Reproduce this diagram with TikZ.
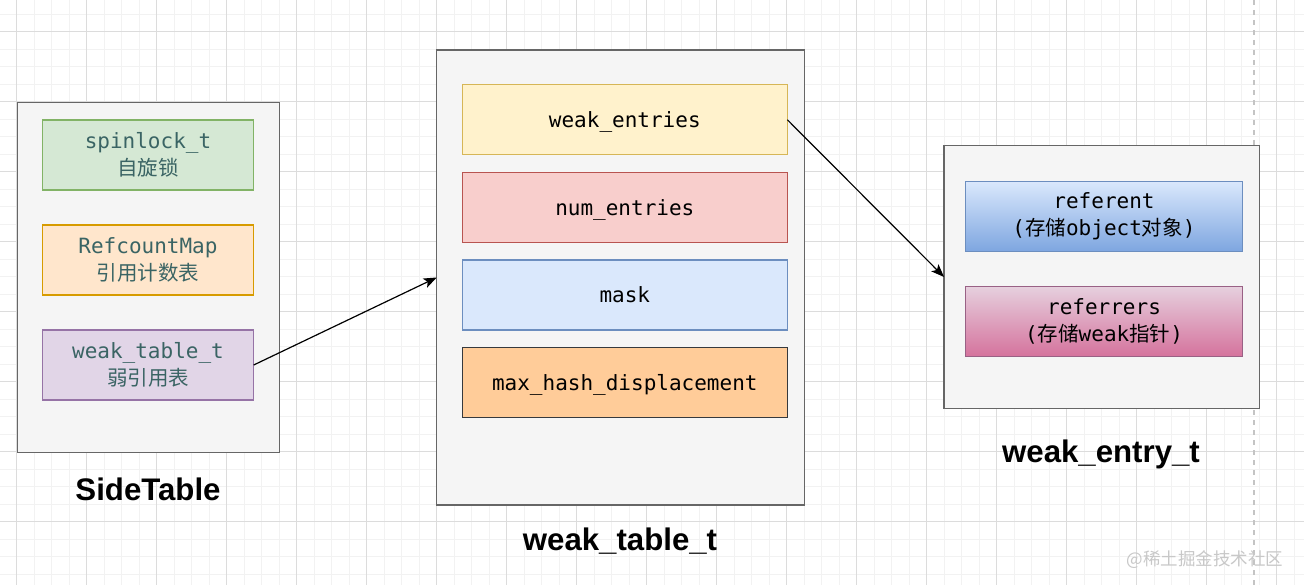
\documentclass[tikz,border=0pt]{standalone}
\usepackage{fontspec}
\setmainfont{Liberation Sans}
\newfontfamily\monofont{DejaVu Sans Mono}
\newfontfamily\cjk{Noto Sans CJK SC}
\usetikzlibrary{arrows.meta}
\definecolor{gridminor}{HTML}{F2F2F2}
\definecolor{gridmajor}{HTML}{DCDCDC}
\definecolor{outerfill}{HTML}{F5F5F5}
\definecolor{outerdraw}{HTML}{666666}
\definecolor{tealtext}{HTML}{3A6464}
\definecolor{gfill}{HTML}{D5E8D4}\definecolor{gdraw}{HTML}{82B366}
\definecolor{ofill}{HTML}{FFE6CC}\definecolor{odraw}{HTML}{D79B00}
\definecolor{pfill}{HTML}{E1D5E7}\definecolor{pdraw}{HTML}{9673A6}
\definecolor{yfill}{HTML}{FFF2CC}\definecolor{ydraw}{HTML}{D6B656}
\definecolor{rfill}{HTML}{F8CECC}\definecolor{rdraw}{HTML}{B85450}
\definecolor{bfill}{HTML}{DAE8FC}\definecolor{bdraw}{HTML}{6C8EBF}
\definecolor{mfill}{HTML}{FFCC99}\definecolor{mdraw}{HTML}{36393D}
\definecolor{bbottom}{HTML}{7EA6E0}
\definecolor{ktop}{HTML}{E6D0DE}\definecolor{kbottom}{HTML}{D5739D}\definecolor{kdraw}{HTML}{996185}
\definecolor{dashcol}{HTML}{C4C4C4}
\definecolor{wmark}{HTML}{C8C8C8}
\tikzset{
  outerbox/.style={draw=outerdraw, fill=outerfill, line width=1.3pt, rectangle, inner sep=0pt, outer sep=0pt},
  fieldbox/.style={rectangle, line width=1.3pt, inner sep=0pt, outer sep=0pt, minimum height=70pt, align=center,
    font=\monofont\fontsize{21}{27}\selectfont},
  oneline/.style={text depth=0pt},
  title/.style={font=\bfseries\fontsize{31.2}{36}\selectfont, inner sep=0pt},
  conn/.style={line width=1.2pt, -{Stealth[length=13pt,width=10pt,inset=3pt]}},
}
\newcommand{\zh}[1]{{\cjk\fontsize{20.5}{27}\selectfont #1}}
\begin{document}
\begin{tikzpicture}[x=1pt,y=-1pt]
\useasboundingbox (0,0) rectangle (1304,585);
\fill[white] (0,0) rectangle (1304,585);
\begin{scope}
\clip (0,0) rectangle (1304,585);
\foreach \i in {-1,...,74} \draw[gridminor, line width=1pt] ({16.7+17.5*\i},0) -- ({16.7+17.5*\i},585);
\foreach \i in {-2,...,32} \draw[gridminor, line width=1pt] (0,{31.7+17.5*\i}) -- (1304,{31.7+17.5*\i});
\foreach \i in {0,...,18} \draw[gridmajor, line width=1pt] ({16.7+70*\i},0) -- ({16.7+70*\i},585);
\foreach \i in {0,...,8} \draw[gridmajor, line width=1pt] (0,{31.7+70*\i}) -- (1304,{31.7+70*\i});
\end{scope}
\coordinate (dtop) at (1254,0);
\coordinate (dbot) at (1254,585);
\draw[dashcol, line width=1.5pt, dash pattern=on 5pt off 5pt] (dtop) -- (dbot);

% SideTable
\node[outerbox, minimum width=262pt, minimum height=349.6pt] (side) at (148.2,277.6) {};
\node[fieldbox, fill=gfill, draw=gdraw, text=tealtext, minimum width=211.4pt] (spin) at (148,155) {spinlock\_t\\\zh{自旋锁}};
\node[fieldbox, fill=ofill, draw=odraw, text=tealtext, minimum width=211.4pt] (refc) at (148,260) {RefcountMap\\\zh{引用计数表}};
\node[fieldbox, fill=pfill, draw=pdraw, text=tealtext, minimum width=211.4pt] (wtt) at (148,365) {weak\_table\_t\\\zh{弱引用表}};
\node[title] (sidelbl) at (148,489) {SideTable};

% weak_table_t
\node[outerbox, minimum width=367.6pt, minimum height=455pt] (wtab) at (620.5,277.5) {};
\node[fieldbox, oneline, fill=yfill, draw=ydraw, minimum width=325pt] (went) at (624.8,119.7) {weak\_entries};
\node[fieldbox, oneline, fill=rfill, draw=rdraw, minimum width=325pt] (nument) at (624.8,207.2) {num\_entries};
\node[fieldbox, oneline, fill=bfill, draw=bdraw, minimum width=325pt] (mask) at (624.8,295) {mask};
\node[fieldbox, oneline, fill=mfill, draw=mdraw, minimum width=325pt] (maxh) at (624.8,382.5) {max\_hash\_displacement};
\node[title] (wtablbl) at (620,541) {weak\_table\_t};

% weak_entry_t
\node[outerbox, minimum width=315.3pt, minimum height=262.6pt] (wentry) at (1101.7,277) {};
\node[fieldbox, top color=bfill, bottom color=bbottom, draw=bdraw, minimum width=276.6pt] (refnt) at (1104,216.3) {referent\\(\zh{存储}object\zh{对象})};
\node[fieldbox, top color=ktop, bottom color=kbottom, draw=kdraw, minimum width=276.6pt] (refrs) at (1104,321.2) {referrers\\(\zh{存储}weak\zh{指针})};
\node[title] (welbl) at (1101,454) {weak\_entry\_t};

% connectors
\draw[conn] (wtt.east) -- (wtab.west);
\draw[conn] (went.east) -- (wentry.west);

% watermark
\node[text=wmark, font=\cjk\fontsize{17.5}{20}\selectfont, inner sep=0pt] (wm) at (1205,560) {@稀土掘金技术社区};
\end{tikzpicture}
\end{document}
